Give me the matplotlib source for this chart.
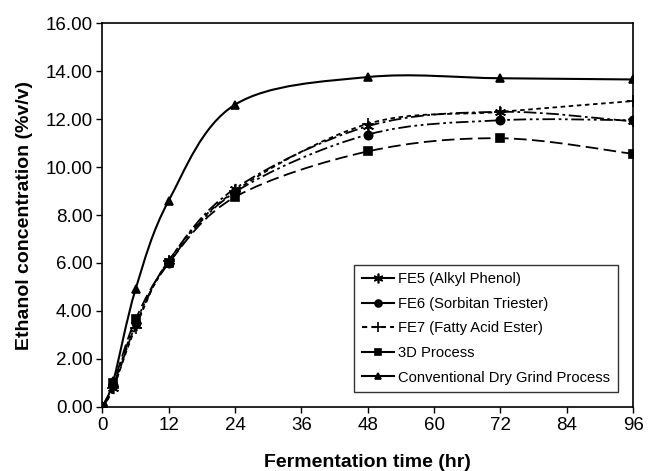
import matplotlib.pyplot as plt
from matplotlib.path import Path
from matplotlib.patches import PathPatch
from matplotlib.lines import Line2D

plt.rcParams['font.family'] = ['Liberation Sans', 'DejaVu Sans']

time_hr = [0, 2, 6, 12, 24, 48, 72, 96]
fe5 = [0.0, 0.80, 3.40, 6.10, 9.10, 11.70, 12.30, 11.90]
fe6 = [0.0, 0.90, 3.50, 6.00, 8.95, 11.35, 11.95, 11.95]
fe7 = [0.0, 0.80, 3.30, 6.10, 9.00, 11.80, 12.30, 12.75]
proc_3d = [0.0, 1.00, 3.65, 6.00, 8.75, 10.65, 11.20, 10.55]
conventional = [0.0, 1.10, 4.90, 8.60, 12.60, 13.75, 13.70, 13.65]

labels = ['FE5 (Alkyl Phenol)', 'FE6 (Sorbitan Triester)', 'FE7 (Fatty Acid Ester)',
          '3D Process', 'Conventional Dry Grind Process']
series = [fe5, fe6, fe7, proc_3d, conventional]
markers = [(6, 2, 0), 'o', '+', 's', '^']
styles = [(0, (7, 2, 1.5, 2)), (0, (7, 2, 1.5, 2, 1.5, 2)), (0, (2.5, 2)), (0, (7, 3)), '-']
legend_styles = ['-', '-', (0, (2.5, 2)), '-', '-']
msizes = [8, 6, 8, 6, 6]


def smooth_path(x, y):
    # excel style smoothed line through the points
    verts = [(x[0], y[0])]
    codes = [Path.MOVETO]
    n = len(x)
    for i in range(n - 1):
        x0, y0 = (x[i - 1], y[i - 1]) if i > 0 else (x[i], y[i])
        x3, y3 = (x[i + 2], y[i + 2]) if i + 2 < n else (x[i + 1], y[i + 1])
        c1 = (x[i] + (x[i + 1] - x0) / 6, y[i] + (y[i + 1] - y0) / 6)
        c2 = (x[i + 1] - (x3 - x[i]) / 6, y[i + 1] - (y3 - y[i]) / 6)
        verts += [c1, c2, (x[i + 1], y[i + 1])]
        codes += [Path.CURVE4] * 3
    return Path(verts, codes)


fig = plt.figure(figsize=(6.52, 4.71), dpi=100)
ax = fig.add_axes([0.157, 0.136, 0.814, 0.815])

handles = []
for k in range(5):
    patch = PathPatch(smooth_path(time_hr, series[k]), facecolor='none', edgecolor='black',
                      linewidth=1.5 if k == 4 else 1.3, linestyle=styles[k])
    ax.add_patch(patch)
    ax.plot(time_hr, series[k], linestyle='none', marker=markers[k], color='black',
            markersize=msizes[k], markeredgewidth=1.2)
    handles.append(Line2D([], [], color='black', linestyle=legend_styles[k], linewidth=1.5,
                          marker=markers[k], markersize=msizes[k] - 1, markeredgewidth=1.2))

ax.set_xlim(0, 96)
ax.set_ylim(0, 16)
ax.set_xticks(range(0, 97, 12))
ax.set_yticks(range(0, 17, 2))
ax.set_yticklabels(['%.2f' % v for v in range(0, 17, 2)])
ax.tick_params(direction='out', labelsize=13.5, length=4, width=1, pad=3)
for s in ax.spines.values():
    s.set_linewidth(1.2)

ax.set_xlabel('Fermentation time (hr)', fontsize=14, fontweight='bold', labelpad=15)
ax.set_ylabel('Ethanol concentration (%v/v)', fontsize=14, fontweight='bold', labelpad=9)

leg = ax.legend(handles, labels, loc='lower right', bbox_to_anchor=(0.985, 0.02),
                fontsize=10.6, frameon=True, fancybox=False, edgecolor='black',
                handlelength=2.2, handletextpad=0.3, labelspacing=0.72, borderpad=0.5)
leg.get_frame().set_linewidth(1.0)

fig.savefig('out.png', dpi=100)
